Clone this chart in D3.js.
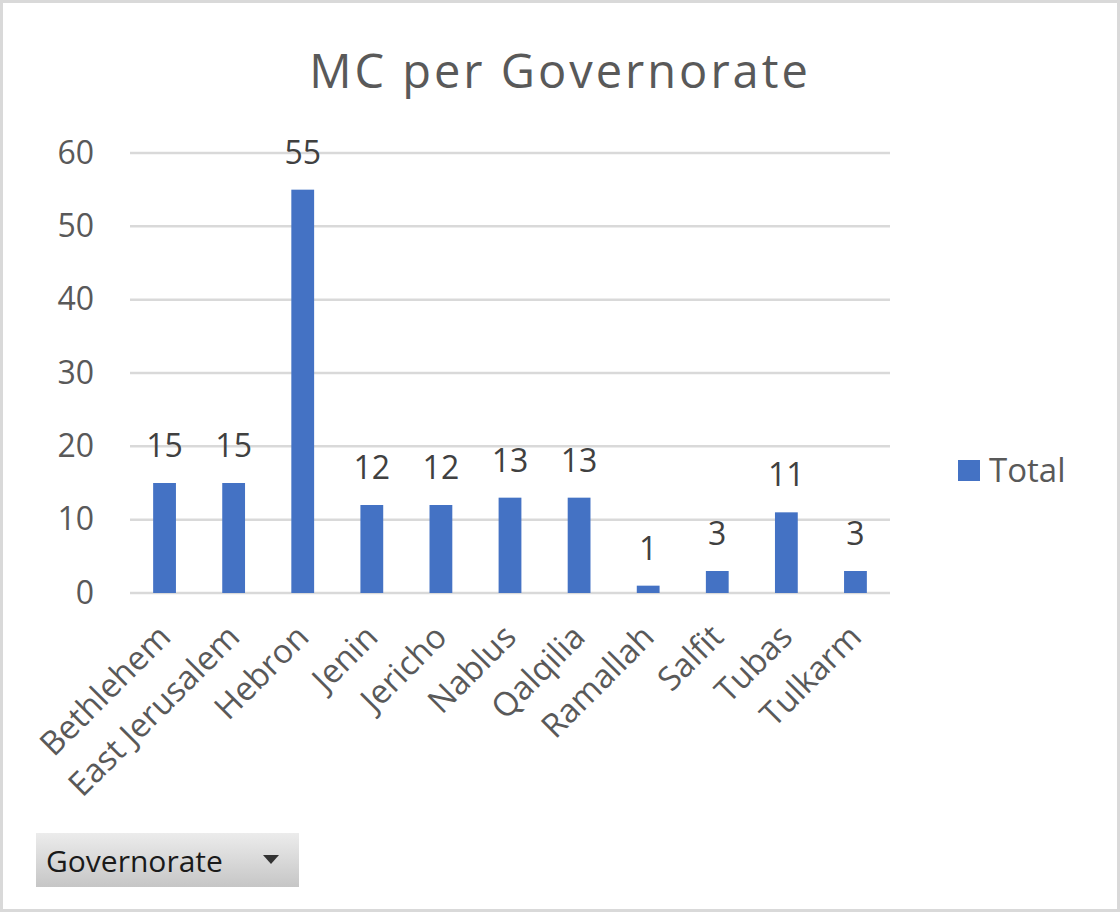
<!DOCTYPE html>
<html>
<head>
<meta charset="utf-8">
<script src="https://cdn.jsdelivr.net/npm/d3@7"></script>
<style>
  body { margin: 0; background: #fff; }
  svg { display: block; }
</style>
</head>
<body>
<div id="chart"></div>
<script>
var categories = ["Bethlehem", "East Jerusalem", "Hebron", "Jenin", "Jericho", "Nablus",
    "Qalqilia", "Ramallah", "Salfit", "Tubas", "Tulkarm"];
var totals = [15, 15, 55, 12, 12, 13, 13, 1, 3, 11, 3];
var yTicks = [0, 10, 20, 30, 40, 50, 60];
var title = "MC per Governorate";
var seriesName = "Total";
var fieldButton = "Governorate";

var W = 1120, H = 912;
var font = '"Open Sans", "Noto Sans", sans-serif';
var textGrey = "#595959";
var barBlue = "#4472c4";

var svg = d3.select("#chart").append("svg")
    .attr("width", W)
    .attr("height", H);

// outer frame
svg.append("rect")
    .attr("x", 1.5).attr("y", 1.5)
    .attr("width", W - 3).attr("height", H - 3)
    .attr("fill", "#fff")
    .attr("stroke", "#d9d9d9")
    .attr("stroke-width", 3);

var plot = { left: 130, right: 890, top: 153, bottom: 593 };

var x = d3.scaleBand()
    .domain(categories)
    .range([plot.left, plot.right])
    .paddingInner(0.67)
    .paddingOuter(0.335);

var y = d3.scaleLinear()
    .domain([0, 60])
    .range([plot.bottom, plot.top]);

// title
svg.append("text")
    .attr("x", 560).attr("y", 88)
    .attr("text-anchor", "middle")
    .style("font-family", font)
    .style("font-size", "47px")
    .style("letter-spacing", "3px")
    .style("fill", textGrey)
    .text(title);

// gridlines
svg.append("g").selectAll("line")
    .data(yTicks)
    .join("line")
    .attr("x1", plot.left).attr("x2", plot.right)
    .attr("y1", function (d) { return y(d); })
    .attr("y2", function (d) { return y(d); })
    .attr("stroke", "#d9d9d9")
    .attr("stroke-width", 2.5);

// y axis labels
var yAxis = d3.axisLeft(y).tickValues(yTicks).tickSize(0).tickPadding(0);
var yg = svg.append("g")
    .attr("transform", "translate(94,0)")
    .call(yAxis);
yg.select(".domain").remove();
yg.selectAll("text")
    .style("font-family", font)
    .style("font-size", "32px")
    .style("fill", textGrey);

// bars
svg.append("g").selectAll("rect")
    .data(totals)
    .join("rect")
    .attr("x", function (d, i) { return x(categories[i]); })
    .attr("y", function (d) { return y(d); })
    .attr("width", x.bandwidth())
    .attr("height", function (d) { return y(0) - y(d); })
    .attr("fill", barBlue);

// data labels
svg.append("g").selectAll("text")
    .data(totals)
    .join("text")
    .attr("x", function (d, i) { return x(categories[i]) + x.bandwidth() / 2; })
    .attr("y", function (d) { return y(d) - 26; })
    .attr("text-anchor", "middle")
    .style("font-family", font)
    .style("font-size", "32px")
    .style("fill", "#404040")
    .text(function (d) { return d; });

// x axis labels, rotated
var xAxis = d3.axisBottom(x).tickSize(0).tickPadding(0);
var xg = svg.append("g")
    .attr("transform", "translate(0," + plot.bottom + ")")
    .call(xAxis);
xg.select(".domain").remove();
xg.selectAll("text")
    .attr("text-anchor", "end")
    .attr("dy", 0)
    .attr("transform", "translate(8,46) rotate(-45)")
    .style("font-family", font)
    .style("font-size", "33px")
    .style("fill", textGrey);

// legend
svg.append("rect")
    .attr("x", 958).attr("y", 460)
    .attr("width", 22).attr("height", 21)
    .attr("fill", barBlue);
svg.append("text")
    .attr("x", 989).attr("y", 482)
    .style("font-family", font)
    .style("font-size", "33px")
    .style("fill", textGrey)
    .text(seriesName);

// field button
var grad = svg.append("defs").append("linearGradient")
    .attr("id", "btn").attr("x1", 0).attr("y1", 0).attr("x2", 0).attr("y2", 1);
grad.append("stop").attr("offset", "0%").attr("stop-color", "#ececec");
grad.append("stop").attr("offset", "100%").attr("stop-color", "#c6c6c6");

svg.append("rect")
    .attr("x", 36).attr("y", 833)
    .attr("width", 263).attr("height", 54)
    .attr("fill", "url(#btn)");
svg.append("text")
    .attr("x", 46).attr("y", 872)
    .style("font-family", font)
    .style("font-size", "30px")
    .style("fill", "#1a1a1a")
    .text(fieldButton);
svg.append("path")
    .attr("d", "M263,855 L279,855 L271,864 Z")
    .attr("fill", "#333");
</script>
</body>
</html>
